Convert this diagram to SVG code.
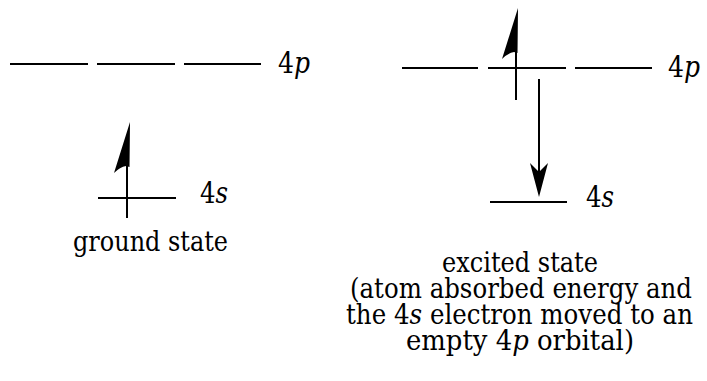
<svg xmlns="http://www.w3.org/2000/svg" width="707" height="381" viewBox="0 0 707 381">
<style>
.lvl{stroke:#000;stroke-width:2;fill:none}
.stem{stroke:#000;stroke-width:2;fill:none}
.head{fill:#000;stroke:none}
.i{font-style:italic}
.lab{font-size:29px}
</style>
<defs>
<path id="harpoon" d="M0,0 L-0.5,45 L-4,44 Q-10,45 -16,51 Z"/>
</defs>
<rect width="707" height="381" fill="#fff"/>
<g font-family="DejaVu Serif, serif" font-size="28" fill="#000">
<g id="ground-4p">
<line class="lvl" x1="10" y1="64" x2="88" y2="64"/>
<line class="lvl" x1="97" y1="64" x2="175" y2="64"/>
<line class="lvl" x1="184" y1="64" x2="261" y2="64"/>
<text class="lab" x="278" y="73" textLength="32" lengthAdjust="spacingAndGlyphs">4<tspan class="i">p</tspan></text>
</g>
<g id="ground-4s">
<line class="lvl" x1="98" y1="198" x2="176" y2="198"/>
<line class="stem" x1="127" y1="165" x2="127" y2="218"/>
<use href="#harpoon" x="130" y="122" class="head"/>
<text class="lab" x="200" y="203" textLength="28" lengthAdjust="spacingAndGlyphs">4<tspan class="i">s</tspan></text>
</g>
<g id="ground-label">
<text x="73" y="251" textLength="155" lengthAdjust="spacingAndGlyphs">ground state</text>
</g>
<g id="excited-4p">
<line class="lvl" x1="402" y1="68" x2="478" y2="68"/>
<line class="lvl" x1="488" y1="68" x2="566" y2="68"/>
<line class="lvl" x1="575" y1="68" x2="652" y2="68"/>
<line class="stem" x1="516" y1="48" x2="516" y2="100"/>
<use href="#harpoon" x="518" y="8" class="head"/>
<text class="lab" x="668" y="77" textLength="32" lengthAdjust="spacingAndGlyphs">4<tspan class="i">p</tspan></text>
</g>
<g id="excited-4s">
<line class="lvl" x1="490" y1="202" x2="567" y2="202"/>
<text class="lab" x="586" y="207" textLength="28" lengthAdjust="spacingAndGlyphs">4<tspan class="i">s</tspan></text>
</g>
<g id="excited-label">
<text x="442" y="272" textLength="156" lengthAdjust="spacingAndGlyphs">excited state</text>
<text x="350" y="298" textLength="342" lengthAdjust="spacingAndGlyphs">(atom absorbed energy and</text>
<text x="346" y="324" textLength="347" lengthAdjust="spacingAndGlyphs">the 4<tspan class="i">s</tspan> electron moved to an</text>
<text x="406" y="350" textLength="228" lengthAdjust="spacingAndGlyphs">empty 4<tspan class="i">p</tspan> orbital)</text>
</g>
</g>
<g id="connectors">
<line class="stem" x1="539" y1="79" x2="539" y2="172"/>
<path class="head" d="M539,197 L530,163 Q535,168 539,172 Q543,168 548,163 Z"/>
</g>
</svg>
